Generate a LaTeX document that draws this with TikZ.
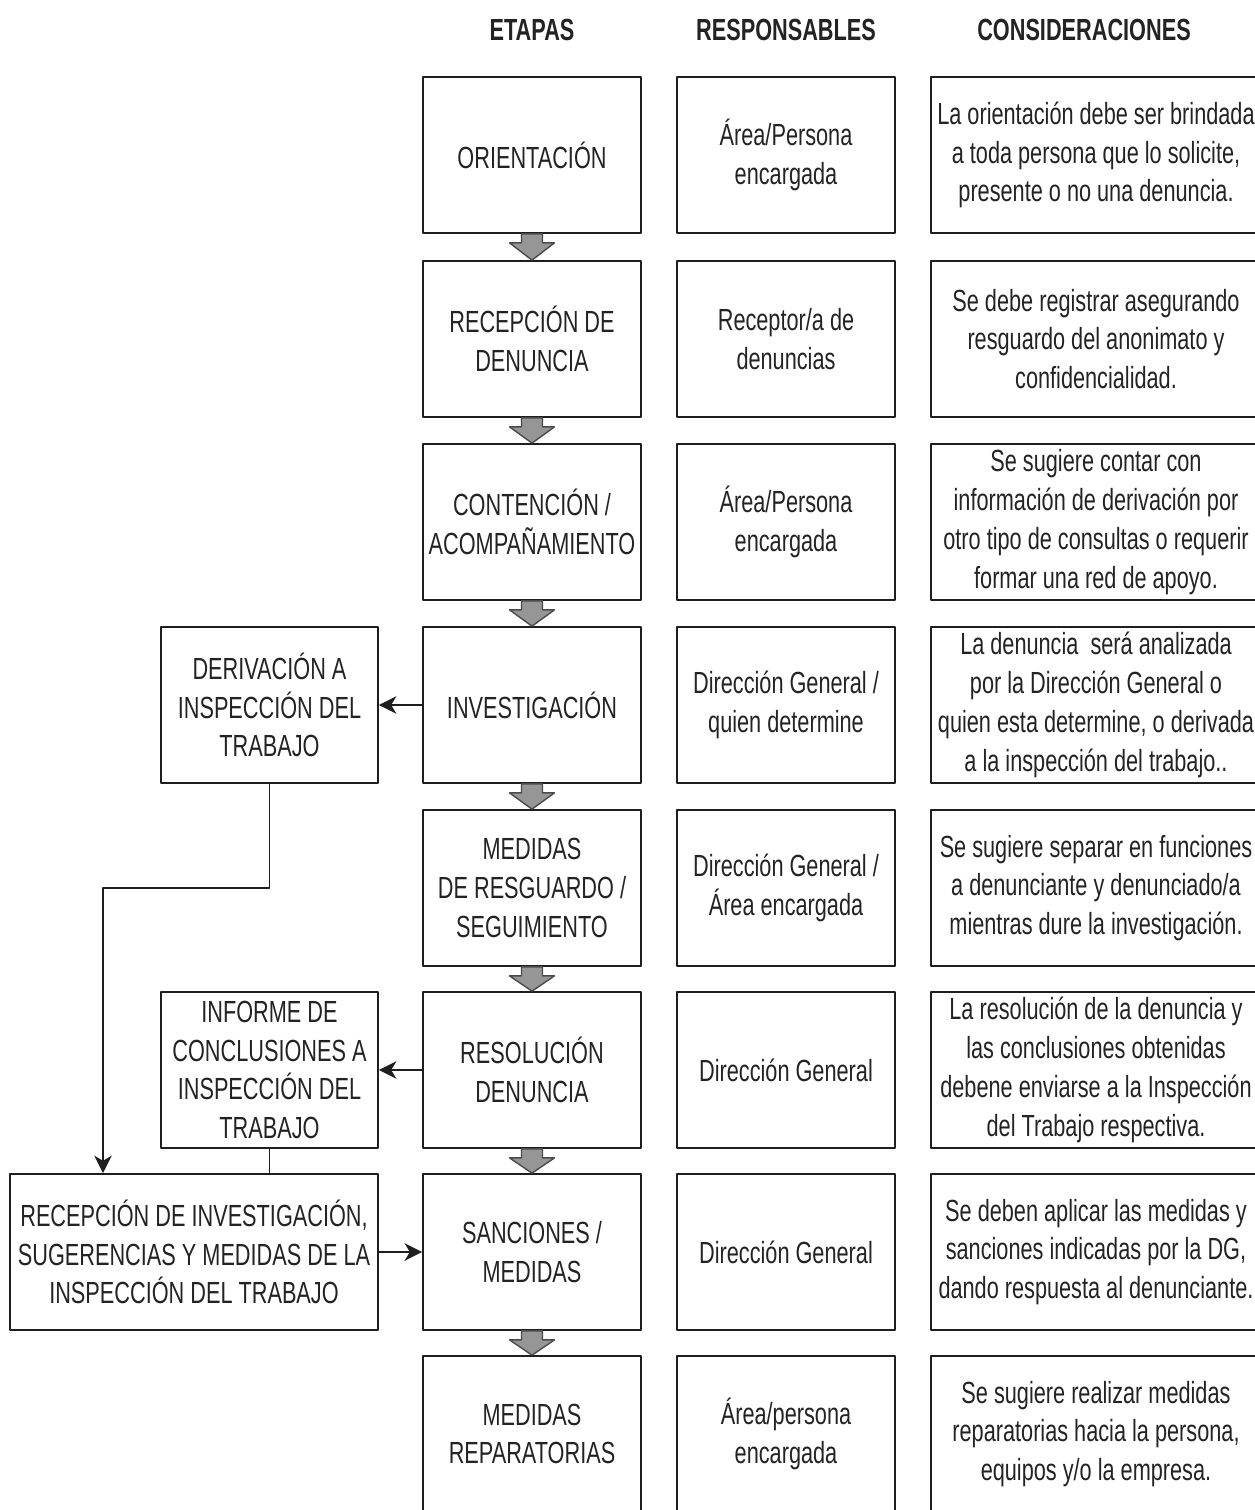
\documentclass[tikz,border=0pt]{standalone}
\usepackage{fontspec}
\setmainfont[FakeStretch=0.71]{Liberation Sans}
\usepackage{tikz}
\usetikzlibrary{arrows.meta, positioning, calc}
\definecolor{textogris}{RGB}{35, 35, 35}
\definecolor{bordegris}{RGB}{30, 30, 30}
\definecolor{flechagris}{RGB}{150, 150, 150}

\begin{document}
\begin{tikzpicture}[x=0.02cm, y=-0.02cm, line cap=round, line join=round,
    caja/.style={draw=bordegris, line width=1pt, align=center, inner sep=1pt,
      text=textogris, font=\fontsize{17.4pt}{22.1pt}\selectfont,
      minimum height=3.12cm},
    etapa/.style={caja, minimum width=4.36cm},
    resp/.style={caja, minimum width=4.36cm},
    consid/.style={caja, minimum width=6.6cm},
    lateral/.style={caja, minimum width=4.34cm},
    encabezado/.style={text=textogris, font=\fontsize{17.4pt}{22.1pt}\selectfont\bfseries},
    conector/.style={draw=bordegris, line width=0.9pt, -{Stealth[length=10pt, width=10pt, inset=3pt]}},
    linea/.style={draw=bordegris, line width=0.9pt},
    flecha/.style={fill=flechagris, draw=bordegris!80, line width=0.8pt}]
    \useasboundingbox (0,0) rectangle (1254,1510);

    % -- Encabezados --
    \node[encabezado] (hEtapas) at (532,30) {ETAPAS};
    \node[encabezado] (hResp) at (786,30) {RESPONSABLES};
    \node[encabezado] (hConsid) at (1084,30) {CONSIDERACIONES};

    % -- Etapas --
    \node[etapa] (ori) at (532,155) {ORIENTACIÓN};
    \node[etapa] (rec) at (532,339) {RECEPCIÓN DE\\DENUNCIA};
    \node[etapa] (con) at (532,522) {CONTENCIÓN /\\ACOMPAÑAMIENTO};
    \node[etapa] (inv) at (532,705) {INVESTIGACIÓN};
    \node[etapa] (med) at (532,888) {MEDIDAS\\DE RESGUARDO /\\SEGUIMIENTO};
    \node[etapa] (res) at (532,1070) {RESOLUCIÓN\\DENUNCIA};
    \node[etapa] (san) at (532,1252) {SANCIONES /\\MEDIDAS};
    \node[etapa] (rep) at (532,1434) {MEDIDAS\\REPARATORIAS};

    % -- Responsables --
    \node[resp] (respOri) at (786,155) {Área/Persona\\encargada};
    \node[resp] (respRec) at (786,339) {Receptor/a de\\denuncias};
    \node[resp] (respCon) at (786,522) {Área/Persona\\encargada};
    \node[resp] (respInv) at (786,705) {Dirección General /\\quien determine};
    \node[resp] (respMed) at (786,888) {Dirección General /\\Área encargada};
    \node[resp] (respRes) at (786,1070) {Dirección General};
    \node[resp] (respSan) at (786,1252) {Dirección General};
    \node[resp] (respRep) at (786,1434) {Área/persona\\encargada};

    % -- Consideraciones --
    \node[consid] (consOri) at (1096,155) {La orientación debe ser brindada\\a toda persona que lo solicite,\\presente o no una denuncia.};
    \node[consid] (consRec) at (1096,339) {Se debe registrar asegurando\\resguardo del anonimato y\\confidencialidad.};
    \node[consid] (consCon) at (1096,522) {Se sugiere contar con\\información de derivación por\\otro tipo de consultas o requerir\\formar una red de apoyo.};
    \node[consid] (consInv) at (1096,705) {La denuncia\ \ será analizada\\por la Dirección General o\\quien esta determine, o derivada\\a la inspección del trabajo..};
    \node[consid] (consMed) at (1096,888) {Se sugiere separar en funciones\\a denunciante y denunciado/a\\mientras dure la investigación.};
    \node[consid] (consRes) at (1096,1070) {La resolución de la denuncia y\\las conclusiones obtenidas\\debene enviarse a la Inspección\\del Trabajo respectiva.};
    \node[consid] (consSan) at (1096,1252) {Se deben aplicar las medidas y\\sanciones indicadas por la DG,\\dando respuesta al denunciante.};
    \node[consid] (consRep) at (1096,1434) {Se sugiere realizar medidas\\reparatorias hacia la persona,\\equipos y/o la empresa.};

    % -- Inspeccion del Trabajo --
    \node[lateral] (deriv) at (269.5,705) {DERIVACIÓN A\\INSPECCIÓN DEL\\TRABAJO};
    \node[lateral] (informe) at (269.5,1070) {INFORME DE\\CONCLUSIONES A\\INSPECCIÓN DEL\\TRABAJO};
    \node[lateral, minimum width=7.36cm] (recep) at (194,1252) {RECEPCIÓN DE INVESTIGACIÓN,\\SUGERENCIAS Y MEDIDAS DE LA\\INSPECCIÓN DEL TRABAJO};
    \coordinate (codo) at (103,888);

    % -- Flechas entre etapas --
    \filldraw[flecha] ($(ori.south)+(-10.5,0)$) -- ++(0,9) -- ++(-12,0) -- (rec.north) -- ($(ori.south)+(22.5,9)$) -- ++(-12,0) -- ++(0,-9) -- cycle;
    \filldraw[flecha] ($(rec.south)+(-10.5,0)$) -- ++(0,9) -- ++(-12,0) -- (con.north) -- ($(rec.south)+(22.5,9)$) -- ++(-12,0) -- ++(0,-9) -- cycle;
    \filldraw[flecha] ($(con.south)+(-10.5,0)$) -- ++(0,9) -- ++(-12,0) -- (inv.north) -- ($(con.south)+(22.5,9)$) -- ++(-12,0) -- ++(0,-9) -- cycle;
    \filldraw[flecha] ($(inv.south)+(-10.5,0)$) -- ++(0,9) -- ++(-12,0) -- (med.north) -- ($(inv.south)+(22.5,9)$) -- ++(-12,0) -- ++(0,-9) -- cycle;
    \filldraw[flecha] ($(med.south)+(-10.5,0)$) -- ++(0,9) -- ++(-12,0) -- (res.north) -- ($(med.south)+(22.5,9)$) -- ++(-12,0) -- ++(0,-9) -- cycle;
    \filldraw[flecha] ($(res.south)+(-10.5,0)$) -- ++(0,9) -- ++(-12,0) -- (san.north) -- ($(res.south)+(22.5,9)$) -- ++(-12,0) -- ++(0,-9) -- cycle;
    \filldraw[flecha] ($(san.south)+(-10.5,0)$) -- ++(0,9) -- ++(-12,0) -- (rep.north) -- ($(san.south)+(22.5,9)$) -- ++(-12,0) -- ++(0,-9) -- cycle;

    % -- Conectores --
    \draw[conector] (inv.west) -- (deriv.east);
    \draw[conector] (deriv.south) |- (codo) -- (codo |- recep.north);
    \draw[conector] (res.west) -- (informe.east);
    \draw[linea] (informe.south) -- (informe.south |- recep.north);
    \draw[conector] (recep.east) -- (san.west);

\end{tikzpicture}
\end{document}
